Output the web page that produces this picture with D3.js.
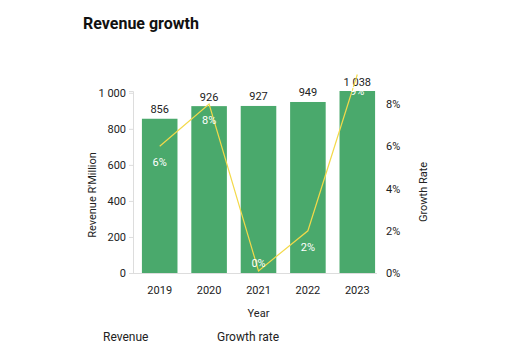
<!DOCTYPE html>
<html>
<head>
<meta charset="utf-8">
<script src="https://cdn.jsdelivr.net/npm/d3@7"></script>
<style>
  body { margin: 0; background: #fff; }
  svg { font-family: Roboto, sans-serif; }
</style>
</head>
<body>
<div id="chart"></div>
<script>
const years = ['2019', '2020', '2021', '2022', '2023'];
const revenue = [856, 926, 927, 949, 1038];
const growth = [6, 8, 0.1, 2, 9.4];
const revenueTicks = [0, 200, 400, 600, 800, 1000];
const growthTicks = [0, 2, 4, 6, 8];
const legendLabels = ['Revenue', 'Growth rate'];

const W = 513, H = 361;
const axisX = 133, plotL = 135, plotR = 382, plotT = 91, plotB = 273;

const locale = d3.formatLocale({decimal: '.', thousands: ' ', grouping: [3], currency: ['', '']});
const fmt = locale.format(',d');

const svg = d3.select('#chart')
    .append('svg')
    .attr('width', W)
    .attr('height', H);

svg.append('defs')
    .append('clipPath')
    .attr('id', 'plot')
    .append('rect')
    .attr('x', plotL)
    .attr('y', plotT)
    .attr('width', plotR - plotL)
    .attr('height', plotB - plotT);

const x = d3.scaleBand()
    .domain(years)
    .range([plotL, plotR])
    .paddingInner(0.28)
    .paddingOuter(0.14);

const y = d3.scaleLinear()
    .domain([0, 1010])
    .range([plotB, plotT]);

const y2 = d3.scaleLinear()
    .domain([0, 8.62])
    .range([plotB, plotT]);

// title
svg.append('text')
    .attr('x', 83)
    .attr('y', 29)
    .attr('font-size', 16)
    .attr('font-weight', 'bold')
    .attr('fill', '#111')
    .text('Revenue growth');

// left axis
const yAxis = svg.append('g')
    .attr('transform', `translate(${axisX},0)`)
    .call(d3.axisLeft(y).tickValues(revenueTicks).tickFormat(fmt).tickSize(4).tickPadding(3));
yAxis.select('.domain').attr('stroke', '#ddd');
yAxis.selectAll('.tick line').attr('stroke', '#ddd');
yAxis.selectAll('text').attr('font-size', 11).attr('fill', '#222').attr('font-family', 'Roboto');

// right axis
const y2Axis = svg.append('g')
    .attr('transform', `translate(${plotR},0)`)
    .call(d3.axisRight(y2).tickValues(growthTicks).tickFormat(d => d + '%').tickSize(0).tickPadding(4));
y2Axis.select('.domain').remove();
y2Axis.selectAll('text').attr('font-size', 11).attr('fill', '#222').attr('font-family', 'Roboto');

// x axis
const xAxis = svg.append('g')
    .attr('transform', `translate(0,${plotB})`)
    .call(d3.axisBottom(x).tickSize(0).tickPadding(13));
xAxis.select('.domain').attr('stroke', '#ddd').attr('d', `M${axisX},0.5H${plotR - 5}`);
xAxis.selectAll('text').attr('font-size', 11).attr('fill', '#222').attr('font-family', 'Roboto');

// bars
svg.append('g')
    .attr('clip-path', 'url(#plot)')
    .selectAll('rect')
    .data(revenue)
    .enter()
    .append('rect')
    .attr('x', (d, i) => x(years[i]))
    .attr('y', d => y(d))
    .attr('width', x.bandwidth())
    .attr('height', d => plotB - y(d))
    .attr('fill', '#4aa96c');

// bar labels
svg.append('g')
    .selectAll('text')
    .data(revenue)
    .enter()
    .append('text')
    .attr('x', (d, i) => x(years[i]) + x.bandwidth() / 2)
    .attr('y', d => Math.max(y(d), plotT) - 5.5)
    .attr('text-anchor', 'middle')
    .attr('font-size', 11)
    .attr('fill', '#222')
    .text(d => fmt(d));

// growth line
const line = d3.line()
    .x((d, i) => x(years[i]) + x.bandwidth() / 2)
    .y(d => y2(d));

svg.append('path')
    .datum(growth)
    .attr('d', line)
    .attr('fill', 'none')
    .attr('stroke', '#f3d94a')
    .attr('stroke-width', 1.2);

// growth labels
svg.append('g')
    .selectAll('text')
    .data(growth)
    .enter()
    .append('text')
    .attr('x', (d, i) => x(years[i]) + x.bandwidth() / 2)
    .attr('y', d => Math.min(y2(d) + 20, plotB - 6))
    .attr('text-anchor', 'middle')
    .attr('font-size', 11)
    .attr('fill', '#fff')
    .text(d => Math.round(d) + '%');

// axis titles
svg.append('text')
    .attr('x', (plotL + plotR) / 2)
    .attr('y', 317)
    .attr('text-anchor', 'middle')
    .attr('font-size', 11)
    .attr('fill', '#222')
    .text('Year');

svg.append('text')
    .attr('transform', `translate(96,195) rotate(-90)`)
    .attr('text-anchor', 'middle')
    .attr('font-size', 11)
    .attr('fill', '#222')
    .text("Revenue R'Million");

svg.append('text')
    .attr('transform', `translate(427,192) rotate(-90)`)
    .attr('text-anchor', 'middle')
    .attr('font-size', 11)
    .attr('fill', '#222')
    .text('Growth Rate');

// legend (no swatches)
svg.append('g')
    .selectAll('text')
    .data(legendLabels)
    .enter()
    .append('text')
    .attr('x', (d, i) => [103, 217][i])
    .attr('y', 341)
    .attr('font-size', 12)
    .attr('fill', '#222')
    .text(d => d);
</script>
</body>
</html>
